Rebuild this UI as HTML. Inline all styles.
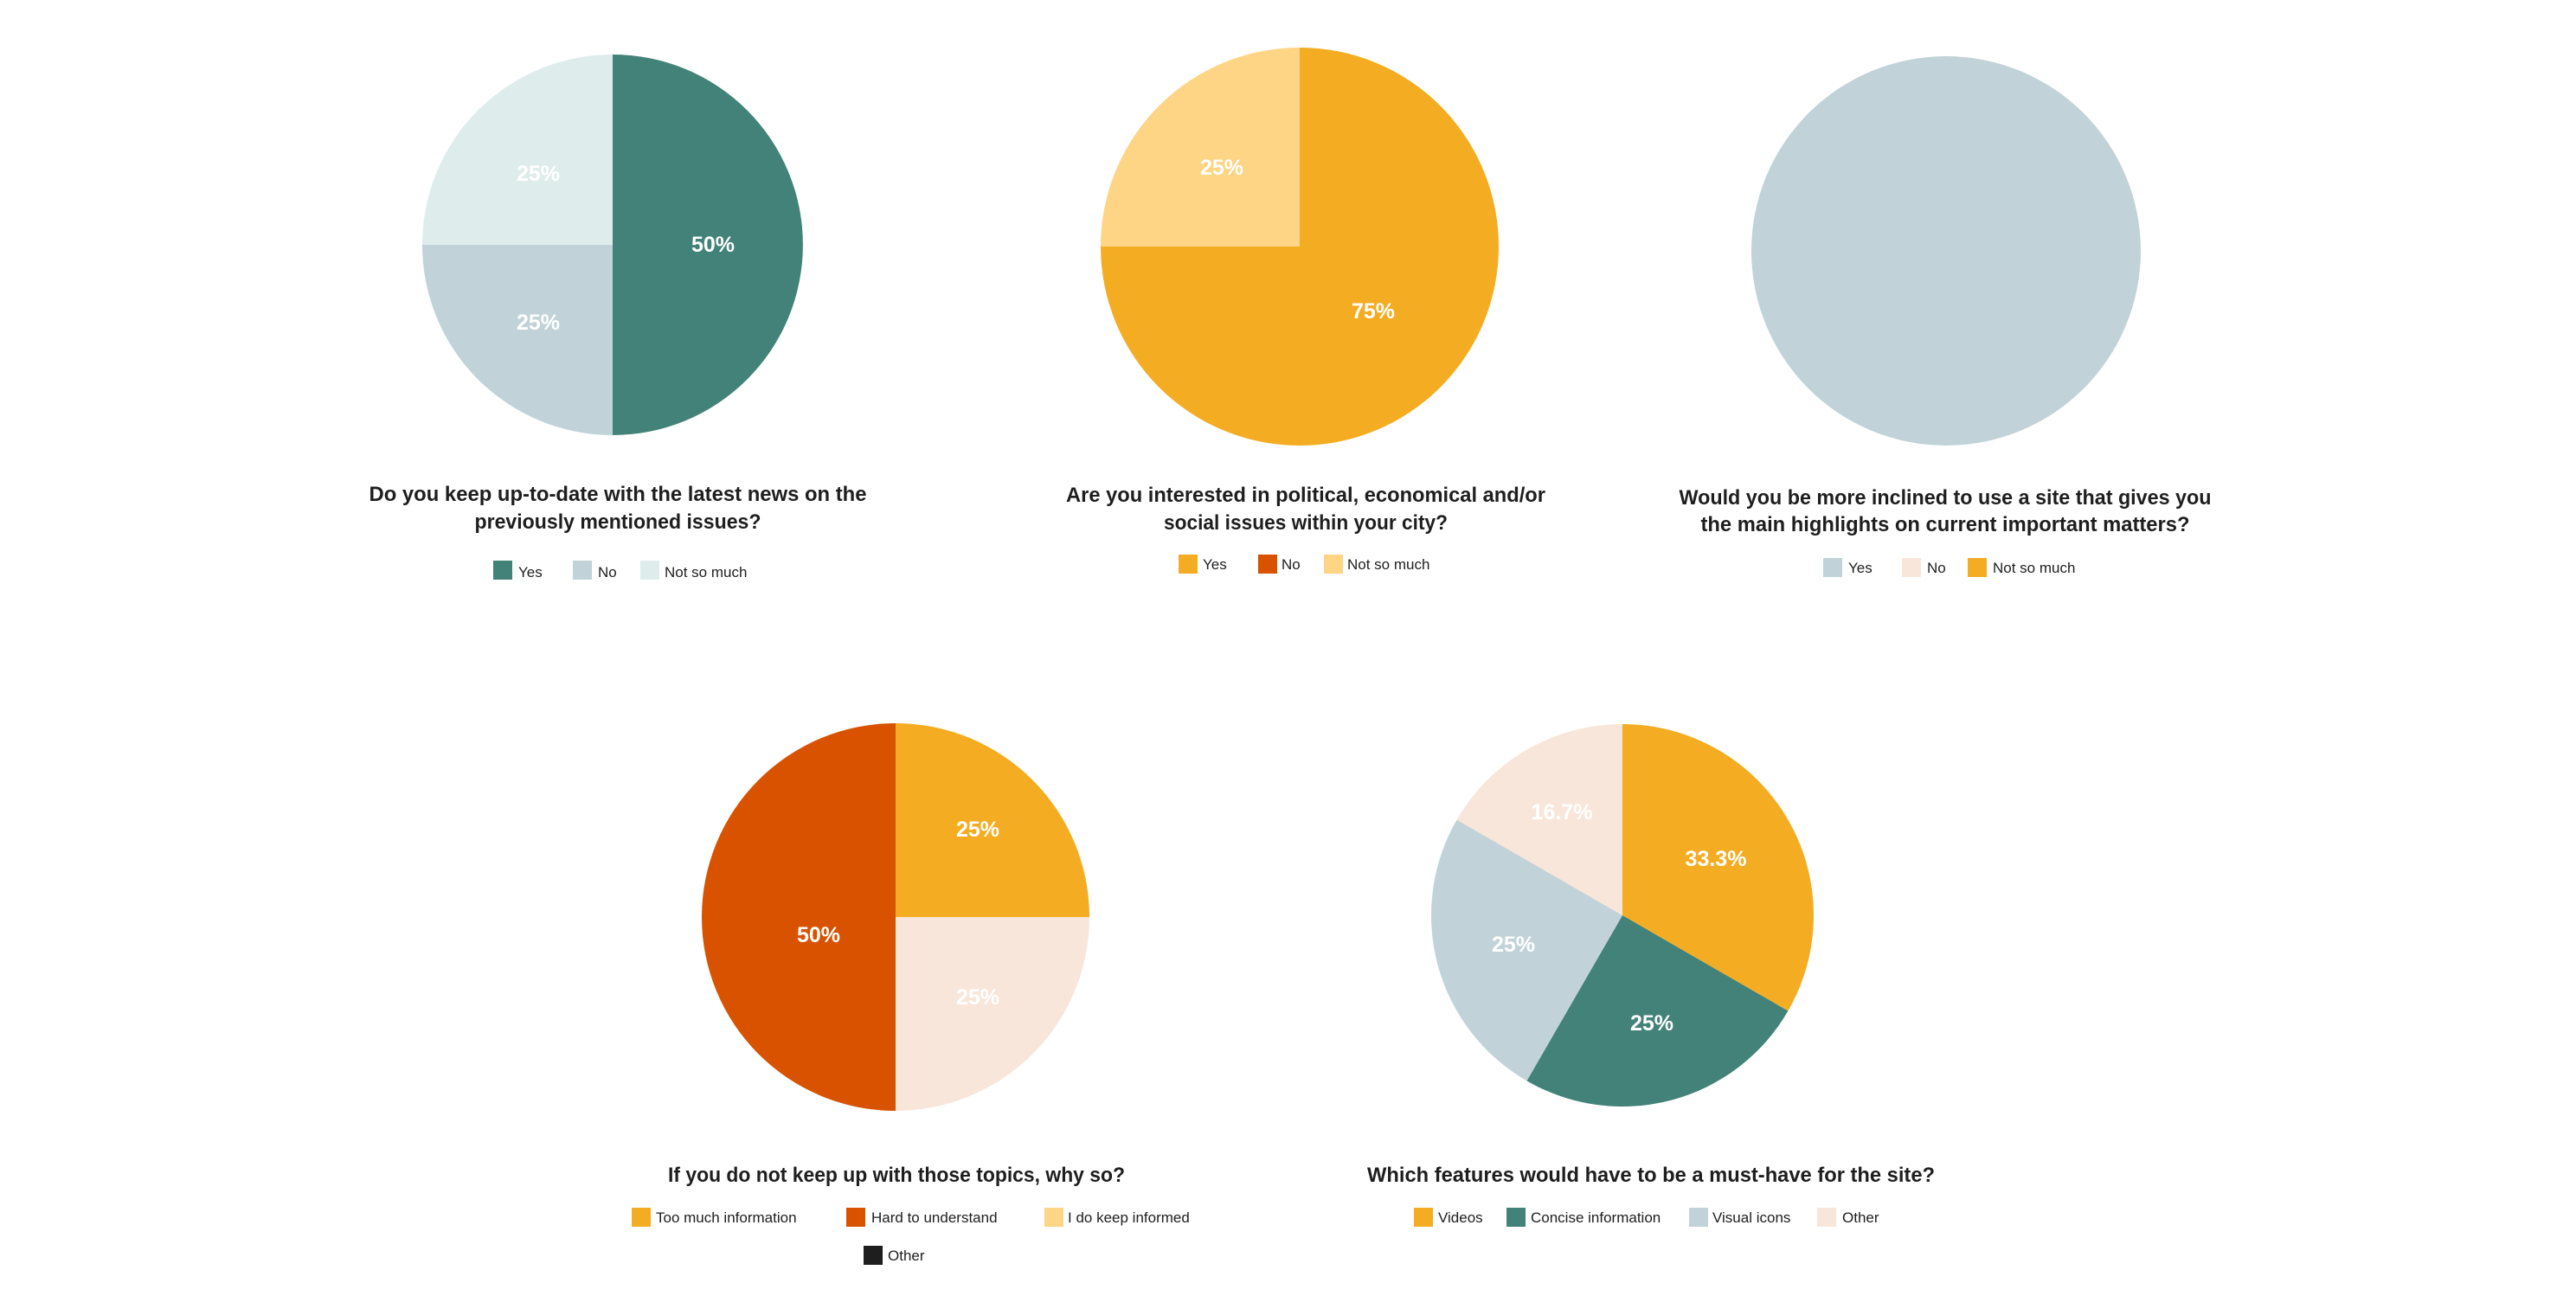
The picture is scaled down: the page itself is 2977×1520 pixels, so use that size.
<!DOCTYPE html>
<html><head><meta charset="utf-8"><style>
html,body{margin:0;padding:0;background:#fff;}
svg{display:block;}
.t{font-family:"Liberation Sans",sans-serif;font-weight:bold;font-size:24px;fill:#1e1e1e;text-anchor:middle;}
.p{font-family:"Liberation Sans",sans-serif;font-weight:bold;font-size:25px;fill:#fff;text-anchor:middle;}
.l{font-family:"Liberation Sans",sans-serif;font-size:17px;fill:#1e1e1e;}
</style></head><body>
<svg width="2977" height="1520" viewBox="0 0 2977 1520" xmlns="http://www.w3.org/2000/svg">
<rect width="2977" height="1520" fill="#fff"/>
<!-- Pie 1 -->
<g transform="translate(708,283)">
<path d="M0,0 L0,-220 A220,220 0 0 1 0,220 Z" fill="#428279"/>
<path d="M0,0 L0,220 A220,220 0 0 1 -220,0 Z" fill="#c1d3d8"/>
<path d="M0,0 L-220,0 A220,220 0 0 1 0,-220 Z" fill="#dfecec"/>
</g>
<text class="p" x="824" y="291">50%</text>
<text class="p" x="622" y="209">25%</text>
<text class="p" x="622" y="381">25%</text>
<text class="t" x="714" y="579" textLength="575" lengthAdjust="spacingAndGlyphs">Do you keep up-to-date with the latest news on the</text>
<text class="t" x="714" y="611" textLength="331" lengthAdjust="spacingAndGlyphs">previously mentioned issues?</text>
<rect x="570" y="648" width="22" height="22" fill="#428279"/><text class="l" x="599" y="667">Yes</text>
<rect x="662" y="648" width="22" height="22" fill="#c1d3d8"/><text class="l" x="691" y="667">No</text>
<rect x="740" y="648" width="22" height="22" fill="#dfecec"/><text class="l" x="768" y="667">Not so much</text>

<!-- Pie 2 -->
<g transform="translate(1502,285)">
<path d="M0,0 L0,-230 A230,230 0 1 1 -230,0 Z" fill="#f4ad23"/>
<path d="M0,0 L-230,0 A230,230 0 0 1 0,-230 Z" fill="#fed485"/>
</g>
<text class="p" x="1412" y="202">25%</text>
<text class="p" x="1587" y="368">75%</text>
<text class="t" x="1509" y="580" textLength="554" lengthAdjust="spacingAndGlyphs">Are you interested in political, economical and/or</text>
<text class="t" x="1509" y="612" textLength="328" lengthAdjust="spacingAndGlyphs">social issues within your city?</text>
<rect x="1362" y="641" width="22" height="22" fill="#f4ad23"/><text class="l" x="1390" y="658">Yes</text>
<rect x="1454" y="641" width="22" height="22" fill="#d85200"/><text class="l" x="1481" y="658">No</text>
<rect x="1530" y="641" width="22" height="22" fill="#fed485"/><text class="l" x="1557" y="658">Not so much</text>

<!-- Pie 3 -->
<circle cx="2249" cy="290" r="225" fill="#c1d3d8"/>
<text class="t" x="2248" y="583" textLength="615" lengthAdjust="spacingAndGlyphs">Would you be more inclined to use a site that gives you</text>
<text class="t" x="2248" y="614" textLength="565" lengthAdjust="spacingAndGlyphs">the main highlights on current important matters?</text>
<rect x="2107" y="645" width="22" height="22" fill="#c1d3d8"/><text class="l" x="2136" y="662">Yes</text>
<rect x="2198" y="645" width="22" height="22" fill="#f8e6da"/><text class="l" x="2227" y="662">No</text>
<rect x="2274" y="645" width="22" height="22" fill="#f4ad23"/><text class="l" x="2303" y="662">Not so much</text>

<!-- Pie 4 -->
<g transform="translate(1035,1060)">
<path d="M0,0 L0,-224 A224,224 0 0 1 224,0 Z" fill="#f4ad23"/>
<path d="M0,0 L224,0 A224,224 0 0 1 0,224 Z" fill="#f8e6da"/>
<path d="M0,0 L0,224 A224,224 0 0 1 0,-224 Z" fill="#d85200"/>
</g>
<text class="p" x="1130" y="967">25%</text>
<text class="p" x="946" y="1089">50%</text>
<text class="p" x="1130" y="1161">25%</text>
<text class="t" x="1036" y="1366" textLength="528" lengthAdjust="spacingAndGlyphs">If you do not keep up with those topics, why so?</text>
<rect x="730" y="1396" width="22" height="22" fill="#f4ad23"/><text class="l" x="758" y="1413">Too much information</text>
<rect x="978" y="1396" width="22" height="22" fill="#d85200"/><text class="l" x="1007" y="1413">Hard to understand</text>
<rect x="1207" y="1396" width="22" height="22" fill="#fed485"/><text class="l" x="1234" y="1413">I do keep informed</text>
<rect x="998" y="1440" width="22" height="22" fill="#1e1e1e"/><text class="l" x="1026" y="1457">Other</text>

<!-- Pie 5 -->
<g transform="translate(1875,1058)">
<path d="M0,0 L0,-221 A221,221 0 0 1 191.4,110.5 Z" fill="#f4ad23"/>
<path d="M0,0 L191.4,110.5 A221,221 0 0 1 -110.5,191.4 Z" fill="#428279"/>
<path d="M0,0 L-110.5,191.4 A221,221 0 0 1 -191.4,-110.5 Z" fill="#c1d3d8"/>
<path d="M0,0 L-191.4,-110.5 A221,221 0 0 1 0,-221 Z" fill="#f8e6da"/>
</g>
<text class="p" x="1983" y="1001">33.3%</text>
<text class="p" x="1805" y="947">16.7%</text>
<text class="p" x="1749" y="1100">25%</text>
<text class="p" x="1909" y="1191">25%</text>
<text class="t" x="1908" y="1366" textLength="656" lengthAdjust="spacingAndGlyphs">Which features would have to be a must-have for the site?</text>
<rect x="1634" y="1396" width="22" height="22" fill="#f4ad23"/><text class="l" x="1662" y="1413">Videos</text>
<rect x="1741" y="1396" width="22" height="22" fill="#428279"/><text class="l" x="1769" y="1413">Concise information</text>
<rect x="1952" y="1396" width="22" height="22" fill="#c1d3d8"/><text class="l" x="1979" y="1413">Visual icons</text>
<rect x="2100" y="1396" width="22" height="22" fill="#f8e6da"/><text class="l" x="2129" y="1413">Other</text>
</svg>
</body></html>
